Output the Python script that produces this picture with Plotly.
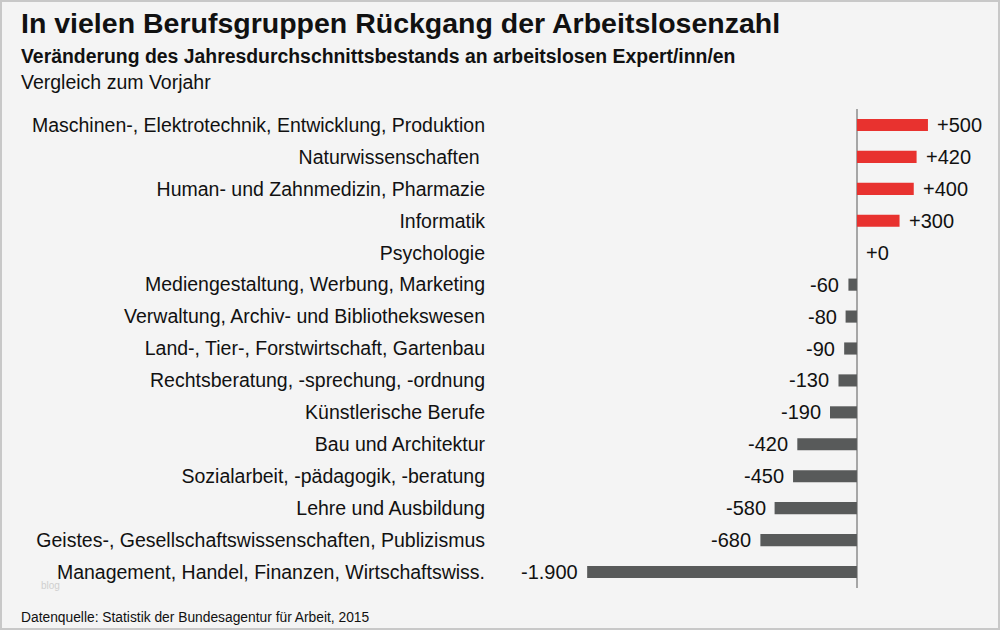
import plotly.graph_objects as go

categories = [
    "Maschinen-, Elektrotechnik, Entwicklung, Produktion",
    "Naturwissenschaften ",
    "Human- und Zahnmedizin, Pharmazie",
    "Informatik",
    "Psychologie",
    "Mediengestaltung, Werbung, Marketing",
    "Verwaltung, Archiv- und Bibliothekswesen",
    "Land-, Tier-, Forstwirtschaft, Gartenbau",
    "Rechtsberatung, -sprechung, -ordnung",
    "Künstlerische Berufe",
    "Bau und Architektur",
    "Sozialarbeit, -pädagogik, -beratung",
    "Lehre und Ausbildung",
    "Geistes-, Gesellschaftswissenschaften, Publizismus",
    "Management, Handel, Finanzen, Wirtschaftswiss.",
]
values = [500, 420, 400, 300, 0, -60, -80, -90, -130, -190, -420, -450, -580, -680, -1900]

title = "In vielen Berufsgruppen Rückgang der Arbeitslosenzahl"
subtitle = "Veränderung des Jahresdurchschnittsbestands an arbeitslosen Expert/inn/en"
subsubtitle = "Vergleich zum Vorjahr"
source = "Datenquelle: Statistik der Bundesagentur für Arbeit, 2015"

RED = "#e8322f"
GREY = "#585a5a"
FONT = "Liberation Sans, Arial, Helvetica, sans-serif"


def fmt(v):
    s = f"{abs(v):,}".replace(",", ".")
    return ("-" if v < 0 else "+") + s


colors = [RED if v > 0 else GREY for v in values]

W, H = 1000, 630
L, R, T, B = 495, 10, 109, 42
pw = W - L - R
ph = H - T - B


def px(x):
    return (x - L) / pw


def py(y):
    return 1 - (y - T) / ph


fig = go.Figure()
fig.add_trace(go.Bar(
    x=values, y=categories, orientation="h",
    marker=dict(color=colors, line=dict(width=0)),
    width=0.38, hoverinfo="skip",
))

annotations = []
for c, v in zip(categories, values):
    annotations.append(dict(
        x=v, y=c, xref="x", yref="y", text=fmt(v), showarrow=False,
        xanchor="left" if v >= 0 else "right",
        xshift=7 if v >= 0 else -7,
        font=dict(size=20, color="#111", family=FONT),
    ))

annotations += [
    dict(x=px(19), y=py(23), xref="paper", yref="paper", text="<b>" + title + "</b>",
         showarrow=False, xanchor="left", yanchor="middle",
         font=dict(size=28.5, color="#111", family=FONT)),
    dict(x=px(19), y=py(56), xref="paper", yref="paper", text="<b>" + subtitle + "</b>",
         showarrow=False, xanchor="left", yanchor="middle",
         font=dict(size=19.4, color="#111", family=FONT)),
    dict(x=px(19), y=py(82), xref="paper", yref="paper", text=subsubtitle,
         showarrow=False, xanchor="left", yanchor="middle",
         font=dict(size=19.5, color="#111", family=FONT)),
    dict(x=px(19), y=py(617), xref="paper", yref="paper", text=source,
         showarrow=False, xanchor="left", yanchor="middle",
         font=dict(size=13.8, color="#111", family=FONT)),
    dict(x=px(39), y=py(585), xref="paper", yref="paper", text="blog",
         showarrow=False, xanchor="left", yanchor="middle",
         font=dict(size=10, color="#cfcfcf", family=FONT)),
]

fig.update_layout(
    width=W, height=H,
    margin=dict(l=L, r=R, t=T, b=B),
    paper_bgcolor="#f4f4f4", plot_bgcolor="#f4f4f4",
    showlegend=False,
    annotations=annotations,
    font=dict(family=FONT, color="#111"),
    xaxis=dict(range=[-2549, 937], showgrid=False, showticklabels=False,
               zeroline=True, zerolinecolor="#a6a6a6", zerolinewidth=1.5,
               fixedrange=True),
    yaxis=dict(categoryorder="array", categoryarray=categories[::-1],
               range=[-0.5, len(categories) - 0.5],
               showgrid=False, zeroline=False, ticks="",
               tickfont=dict(size=19.5, color="#111", family=FONT),
               ticklabelstandoff=9, fixedrange=True),
    shapes=[dict(type="rect", xref="paper", yref="paper",
                 x0=px(1), x1=px(W - 1), y0=py(H - 1), y1=py(1),
                 line=dict(color="#c8c8c8", width=2), layer="above")],
)

fig.write_html("out.html", config={"displayModeBar": False},
               post_script="document.body.style.margin='0';document.body.style.padding='0';")
